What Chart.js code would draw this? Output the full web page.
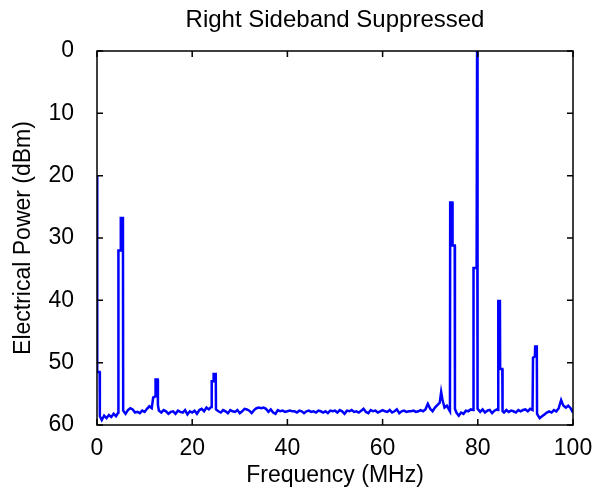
<!DOCTYPE html>
<html>
<head>
<meta charset="utf-8">
<script src="https://cdn.jsdelivr.net/npm/chart.js@4/dist/chart.umd.min.js"></script>
<style>
    html, body { margin: 0; padding: 0; background: #ffffff; }
    #wrap { width: 592px; height: 490px; }
</style>
</head>
<body>
<div id="wrap"><canvas id="spectrumChart" width="592" height="490"></canvas></div>
<script>
// 주파수 (MHz)
const freqMHz = [
    0, 0.05, 0.55, 0.6, 1.0, 1.5, 2.0, 2.5, 3.0, 3.5, 4.0, 4.45,
    4.5, 4.95, 5.0, 5.45, 5.5, 6.0, 6.5, 7.0, 7.5, 8.0, 8.5, 9.0,
    9.5, 10.0, 10.5, 11.0, 11.5, 11.8, 12.25, 12.3, 12.75, 12.8, 13.0, 13.5,
    14.0, 14.5, 15.0, 15.5, 16.0, 16.5, 17.0, 17.5, 18.0, 18.5, 19.0, 19.5,
    20.0, 20.5, 21.0, 21.5, 22.0, 22.5, 23.0, 23.5, 24.0, 24.1, 24.4, 24.5,
    24.95, 25.0, 25.5, 26.0, 26.5, 27.0, 27.5, 28.0, 28.5, 29.0, 29.5, 30.0,
    30.5, 31.0, 31.5, 32.0, 32.5, 33.0, 33.5, 34.0, 34.5, 35.0, 35.5, 36.0,
    36.5, 37.0, 37.5, 38.0, 38.5, 39.0, 39.5, 40.0, 40.5, 41.0, 41.5, 42.0,
    42.5, 43.0, 43.5, 44.0, 44.5, 45.0, 45.5, 46.0, 46.5, 47.0, 47.5, 48.0,
    48.5, 49.0, 49.5, 50.0, 50.5, 51.0, 51.5, 52.0, 52.5, 53.0, 53.5, 54.0,
    54.5, 55.0, 55.5, 56.0, 56.5, 57.0, 57.5, 58.0, 58.5, 59.0, 59.5, 60.0,
    60.5, 61.0, 61.5, 62.0, 62.5, 63.0, 63.5, 64.0, 64.5, 65.0, 65.5, 66.0,
    66.5, 67.0, 67.5, 68.0, 68.5, 69.0, 69.5, 70.0, 70.5, 71.0, 71.5, 72.0,
    72.3, 72.6, 73.0, 73.5, 74.0, 74.15, 74.2, 74.65, 74.7, 75.15, 75.2, 75.5,
    76.0, 76.5, 77.0, 77.5, 78.0, 78.5, 79.05, 79.1, 79.75, 79.85, 79.95, 80.5,
    81.0, 81.5, 82.0, 82.5, 83.0, 83.5, 84.0, 84.25, 84.3, 84.65, 84.7, 85.15,
    85.2, 85.5, 86.0, 86.5, 87.0, 87.5, 88.0, 88.5, 89.0, 89.5, 90.0, 90.5,
    91.0, 91.5, 91.6, 92.0, 92.05, 92.4, 92.45, 93.0, 93.5, 94.0, 94.5, 95.0,
    95.5, 96.0, 96.5, 97.0, 97.5, 97.8, 98.0, 98.5, 99.0, 99.5, 100
];

// 전력 (dBm, 축에는 양수로 표시)
const powerDbm = [
    20.0, 51.5, 51.5, 58.6, 59.2, 58.5, 58.9, 58.4, 58.7, 58.2, 58.6, 58.0,
    32.0, 32.0, 26.8, 26.8, 57.7, 58.2, 57.6, 57.3, 57.5, 58.0, 57.9, 58.1,
    57.7, 57.9, 57.4, 57.0, 57.3, 55.6, 55.4, 52.7, 52.7, 56.8, 57.7, 58.0,
    57.6, 57.8, 58.2, 57.9, 57.8, 58.2, 57.7, 57.9, 58.0, 57.6, 58.3, 57.8,
    58.0, 57.7, 58.2, 57.6, 57.4, 57.8, 57.2, 57.5, 57.1, 53.0, 53.0, 51.8,
    51.8, 57.5, 57.8, 58.0, 57.6, 57.8, 58.1, 57.6, 57.8, 57.9, 57.6, 58.1,
    57.8, 57.4, 57.5, 57.7, 58.1, 57.6, 57.3, 57.2, 57.3, 57.2, 57.4, 57.9,
    57.5, 58.0, 58.2, 57.6, 57.8, 57.7, 57.9, 57.8, 57.7, 57.8, 57.8, 58.0,
    57.7, 57.8, 58.1, 57.8, 57.7, 57.9, 57.8, 58.0, 57.7, 57.8, 58.0, 57.8,
    58.1, 57.7, 57.8, 57.7, 58.0, 57.6, 57.8, 58.2, 57.7, 57.8, 57.6, 57.9,
    57.8, 58.0, 57.7, 57.4, 57.9, 58.1, 57.6, 57.8, 57.7, 58.0, 57.8, 57.6,
    57.8, 57.9, 57.6, 58.0, 57.8, 57.5, 58.1, 57.8, 57.7, 57.9, 57.8, 57.8,
    57.7, 57.9, 57.8, 57.6, 57.8, 57.5, 56.6, 57.4, 57.8, 57.2, 56.8, 56.4,
    54.7, 56.0, 57.2, 56.9, 57.6, 57.8, 24.3, 24.3, 31.2, 31.2, 57.4, 58.0,
    58.5, 58.0, 58.2, 57.7, 57.8, 57.5, 57.6, 34.8, 34.8, 0.0, 57.4, 57.9,
    57.5, 58.0, 57.7, 57.6, 58.1, 57.7, 57.5, 57.6, 40.1, 40.1, 51.0, 51.0,
    57.8, 58.0, 57.6, 57.9, 57.7, 57.8, 58.0, 57.6, 57.8, 57.6, 57.5, 57.8,
    57.4, 57.6, 49.2, 49.0, 47.4, 47.4, 58.2, 58.9, 58.6, 58.3, 58.0, 57.8,
    58.0, 57.6, 57.8, 57.3, 56.0, 56.6, 56.9, 57.2, 56.9, 57.3, 58.0
];

// 축 눈금
const xTicks = [0, 20, 40, 60, 80, 100];
const yTicks = [0, 10, 20, 30, 40, 50, 60];

const FONT = { family: "'Liberation Sans', Arial, sans-serif", size: 23, weight: 'normal' };

// 테두리와 안쪽 눈금 그리기
const frameTicks = {
    id: 'frameTicks',
    afterDatasetsDraw(chart) {
        const { ctx, chartArea: a, scales: { x, y } } = chart;
        const len = 6;
        ctx.save();
        ctx.strokeStyle = '#000000';
        ctx.lineWidth = 1.5;
        ctx.strokeRect(a.left, a.top, a.right - a.left, a.bottom - a.top);
        ctx.beginPath();
        xTicks.forEach(v => {
            const px = x.getPixelForValue(v);
            ctx.moveTo(px, a.bottom); ctx.lineTo(px, a.bottom - len);
            ctx.moveTo(px, a.top); ctx.lineTo(px, a.top + len);
        });
        yTicks.forEach(v => {
            const py = y.getPixelForValue(v);
            ctx.moveTo(a.left, py); ctx.lineTo(a.left + len, py);
            ctx.moveTo(a.right, py); ctx.lineTo(a.right - len, py);
        });
        ctx.stroke();
        ctx.restore();
    }
};

const points = freqMHz.map((f, i) => ({ x: f, y: powerDbm[i] }));

new Chart(document.getElementById('spectrumChart'), {
    type: 'line',
    data: {
        datasets: [{
            data: points,
            borderColor: '#0000ff',
            borderWidth: 2.5,
            pointRadius: 0,
            tension: 0,
            fill: false
        }]
    },
    options: {
        responsive: false,
        animation: false,
        layout: { padding: { left: 0, right: 19, top: 0, bottom: 0 } },
        plugins: {
            legend: { display: false },
            tooltip: { enabled: false },
            title: {
                display: true,
                text: 'Right Sideband Suppressed',
                color: '#000000',
                font: { family: FONT.family, size: 24, weight: 'normal' },
                fullSize: false,
                padding: { top: 6, bottom: 16.2 }
            }
        },
        scales: {
            x: {
                type: 'linear',
                min: 0,
                max: 100,
                afterBuildTicks: scale => { scale.ticks = xTicks.map(v => ({ value: v })); },
                afterFit: scale => {
                    scale.height = 65;
                    scale.paddingLeft = 0;
                    scale.paddingRight = 0;
                },
                grid: { display: false, drawTicks: false },
                border: { display: false },
                ticks: { color: '#000000', font: FONT, padding: 10, maxRotation: 0 },
                title: {
                    display: true,
                    text: 'Frequency (MHz)',
                    color: '#000000',
                    font: FONT,
                    padding: 1
                }
            },
            y: {
                type: 'linear',
                min: 0,
                max: 60,
                reverse: true,
                afterBuildTicks: scale => { scale.ticks = yTicks.map(v => ({ value: v })); },
                afterFit: scale => { scale.width = 97; },
                grid: { display: false, drawTicks: false },
                border: { display: false },
                ticks: { color: '#000000', font: FONT, padding: 23 },
                title: {
                    display: true,
                    text: 'Electrical Power (dBm)',
                    color: '#000000',
                    font: FONT,
                    padding: 10
                }
            }
        }
    },
    plugins: [frameTicks]
});
</script>
</body>
</html>
